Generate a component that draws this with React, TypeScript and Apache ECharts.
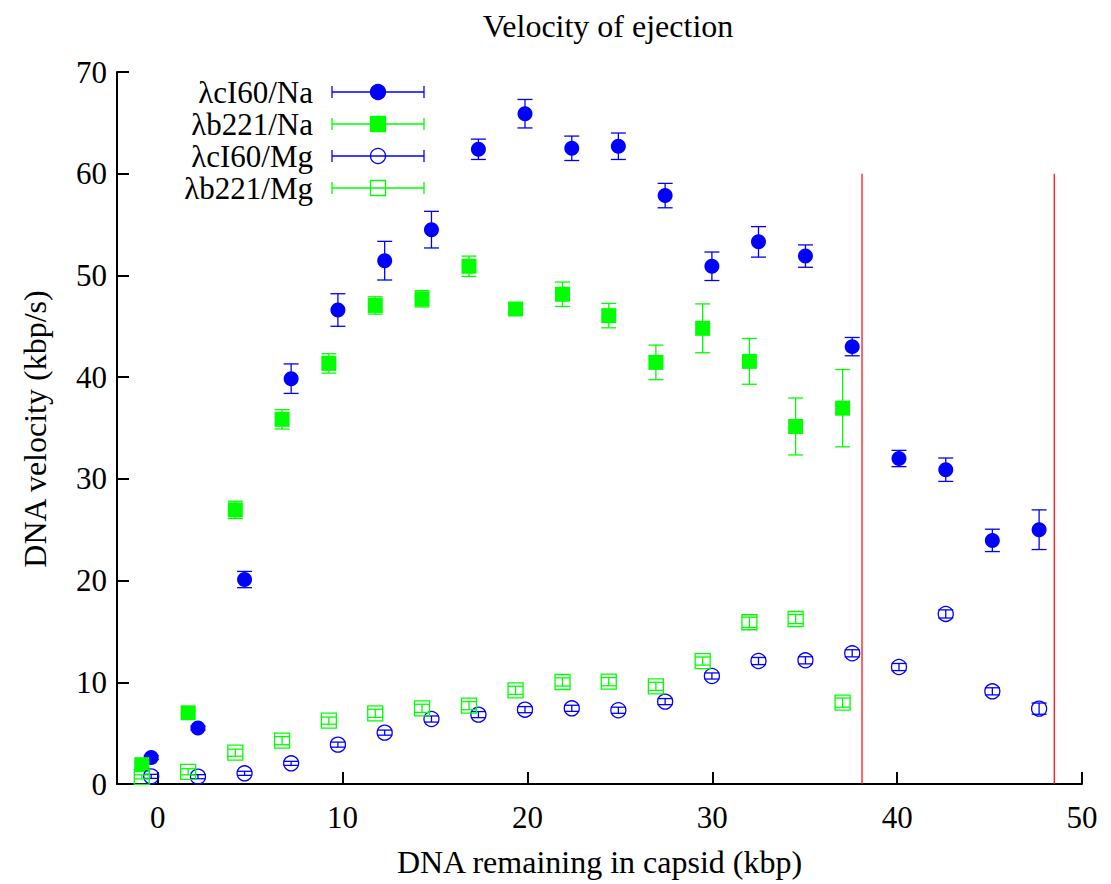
import React, { useEffect, useRef } from "react";
import * as echarts from "echarts";

// ---- data ----
const seriesNames = ["λcI60/Na", "λb221/Na", "λcI60/Mg", "λb221/Mg"];
const seriesColors = ["#0000ff", "#00ff00", "#0000ff", "#00ff00"];

const cI60X = [-0.35, 2.18, 4.7, 7.22, 9.75, 12.28, 14.81, 17.35, 19.87, 22.4, 24.92, 27.45, 29.98, 32.5, 35.04, 37.57, 40.1, 42.63, 45.15, 47.68];
const cI60NaY = [2.6, 5.5, 20.1, 39.85, 46.6, 51.45, 54.5, 62.4, 65.9, 62.5, 62.7, 57.85, 50.9, 53.3, 51.9, 43.0, 32.0, 30.9, 23.95, 25.0];
const cI60NaErr = [0.2, 0.2, 0.8, 1.45, 1.6, 1.9, 1.8, 1.0, 1.4, 1.2, 1.3, 1.2, 1.4, 1.5, 1.1, 0.9, 0.8, 1.15, 1.1, 1.95];

const b221X = [-0.86, 1.65, 4.2, 6.73, 9.26, 11.77, 14.3, 16.84, 19.36, 21.9, 24.4, 26.95, 29.48, 32.01, 34.51, 37.05];
const b221NaY = [1.9, 7.0, 26.95, 35.85, 41.35, 47.05, 47.7, 50.9, 46.7, 48.15, 46.05, 41.45, 44.8, 41.55, 35.15, 36.95];
const b221NaErr = [0.2, 0.2, 0.85, 0.95, 0.95, 0.85, 0.8, 1.0, 0.6, 1.2, 1.2, 1.7, 2.4, 2.25, 2.8, 3.8];

const cI60MgY = [0.75, 0.72, 1.05, 2.03, 3.87, 5.05, 6.39, 6.82, 7.31, 7.44, 7.25, 8.1, 10.62, 12.09, 12.16, 12.85, 11.5, 16.72, 9.11, 7.41];
const cI60MgErr = [0.2, 0.2, 0.2, 0.2, 0.25, 0.25, 0.3, 0.3, 0.3, 0.3, 0.3, 0.3, 0.3, 0.35, 0.35, 0.35, 0.35, 0.4, 0.35, 0.55];

const b221MgY = [0.7, 1.2, 3.08, 4.26, 6.23, 6.95, 7.44, 7.7, 9.21, 10.03, 10.06, 9.6, 12.09, 15.9, 16.22, 8.0];
const b221MgErr = [0.2, 0.3, 0.35, 0.4, 0.35, 0.4, 0.4, 0.4, 0.4, 0.4, 0.4, 0.4, 0.4, 0.5, 0.45, 0.45];

const xTicks = [0, 10, 20, 30, 40, 50];
const redLineX = [38.1, 48.5];
const redLineTop = 60;

const FONT = "Liberation Serif";

export default function App() {
  const ref = useRef<HTMLDivElement>(null);
  useEffect(() => {
    const chart = echarts.init(ref.current!, null, { renderer: "svg" });

    const errSeries = (xs: number[], ys: number[], es: number[], color: string, z: number) => ({
      type: "custom",
      silent: true,
      z,
      data: xs.map((x, i) => [x, ys[i], es[i]]),
      encode: { x: 0, y: 1 },
      renderItem: (_p: any, api: any) => {
        const x = api.value(0), y = api.value(1), e = api.value(2);
        const lo = api.coord([x, y - e]);
        const hi = api.coord([x, y + e]);
        const hw = 7.5;
        const st = { stroke: color, lineWidth: 1.3 };
        return {
          type: "group",
          children: [
            { type: "line", shape: { x1: lo[0], y1: lo[1], x2: hi[0], y2: hi[1] }, style: st },
            { type: "line", shape: { x1: lo[0] - hw, y1: lo[1], x2: lo[0] + hw, y2: lo[1] }, style: st },
            { type: "line", shape: { x1: hi[0] - hw, y1: hi[1], x2: hi[0] + hw, y2: hi[1] }, style: st },
          ],
        };
      },
    });

    const pts = (xs: number[], ys: number[], symbol: string, color: string, filled: boolean, z: number) => ({
      type: "scatter",
      silent: true,
      z,
      symbol,
      symbolSize: 15,
      data: xs.map((x, i) => [x, ys[i]]),
      itemStyle: filled
        ? { color, opacity: 1 }
        : { color: "rgba(0,0,0,0)", borderColor: color, borderWidth: 1.3, opacity: 1 },
    });

    const redSeries = redLineX.map((x) => ({
      type: "line",
      silent: true,
      symbol: "none",
      z: 1,
      data: [[x, 0], [x, redLineTop]],
      lineStyle: { color: "#ff0000", width: 1.2 },
    }));

    const rowY = [92, 124, 156, 188];
    const graphics: any[] = [];
    seriesNames.forEach((name, i) => {
      const y = rowY[i];
      const c = seriesColors[i];
      const st = { stroke: c, lineWidth: 1.3 };
      graphics.push({
        type: "text",
        x: 313,
        y,
        style: {
          text: name, fontFamily: FONT, fontSize: 31, lineHeight: 28, fill: "#000",
          align: "right", textAlign: "right", verticalAlign: "middle", textVerticalAlign: "middle",
        },
      });
      graphics.push({ type: "line", shape: { x1: 332, y1: y, x2: 424, y2: y }, style: st });
      graphics.push({ type: "line", shape: { x1: 332, y1: y - 6, x2: 332, y2: y + 6 }, style: st });
      graphics.push({ type: "line", shape: { x1: 424, y1: y - 6, x2: 424, y2: y + 6 }, style: st });
      const filled = i < 2;
      const fill = filled ? c : "rgba(0,0,0,0)";
      if (i % 2 === 0) {
        graphics.push({ type: "circle", shape: { cx: 378, cy: y, r: 7.5 }, style: { fill, stroke: c, lineWidth: 1.3 } });
      } else {
        graphics.push({ type: "rect", shape: { x: 370.5, y: y - 7.5, width: 15, height: 15 }, style: { fill, stroke: c, lineWidth: 1.3 } });
      }
    });

    // y axis title (rotated)
    graphics.push({
      type: "text",
      x: 35,
      y: 429,
      rotation: Math.PI / 2,
      style: {
        text: "DNA velocity (kbp/s)", fontFamily: FONT, fontSize: 32, fill: "#000",
        align: "center", textAlign: "center", verticalAlign: "middle", textVerticalAlign: "middle",
      },
    });

    const option: any = {
      animation: false,
      backgroundColor: "#fff",
      title: {
        text: "Velocity of ejection",
        left: 603,
        top: 5,
        textAlign: "center",
        textStyle: { fontFamily: FONT, fontSize: 32, fontWeight: "normal", color: "#000" },
      },
      grid: { left: 117, right: 29, top: 72, bottom: 100 },
      xAxis: {
        type: "value",
        min: -2.2,
        max: 50,
        name: "DNA remaining in capsid (kbp)",
        nameLocation: "middle",
        nameGap: 62,
        nameTextStyle: { fontFamily: FONT, fontSize: 32, color: "#000" },
        axisLine: { show: true, onZero: false, lineStyle: { color: "#000", width: 2 } },
        axisTick: { show: true, inside: true, length: 12, customValues: xTicks, lineStyle: { color: "#000", width: 2 } },
        axisLabel: { customValues: xTicks, fontFamily: FONT, fontSize: 31, color: "#000", margin: 18 },
        splitLine: { show: false },
      },
      yAxis: {
        type: "value",
        min: 0,
        max: 70,
        interval: 10,
        axisLine: { show: true, onZero: false, lineStyle: { color: "#000", width: 2 } },
        axisTick: { show: true, inside: true, length: 12, lineStyle: { color: "#000", width: 2 } },
        axisLabel: { fontFamily: FONT, fontSize: 31, color: "#000", margin: 10 },
        splitLine: { show: false },
      },
      graphic: graphics,
      series: [
        ...redSeries,
        errSeries(cI60X, cI60NaY, cI60NaErr, seriesColors[0], 2),
        pts(cI60X, cI60NaY, "circle", seriesColors[0], true, 3),
        errSeries(b221X, b221NaY, b221NaErr, seriesColors[1], 4),
        pts(b221X, b221NaY, "rect", seriesColors[1], true, 5),
        pts(cI60X, cI60MgY, "circle", seriesColors[2], false, 6),
        errSeries(cI60X, cI60MgY, cI60MgErr, seriesColors[2], 7),
        pts(b221X, b221MgY, "rect", seriesColors[3], false, 8),
        errSeries(b221X, b221MgY, b221MgErr, seriesColors[3], 9),
      ],
    };
    chart.setOption(option);
    return () => chart.dispose();
  }, []);
  return (
    <div
      ref={ref}
      style={{ position: "fixed", left: 0, top: 0, width: 1111, height: 884, background: "#fff" }}
    />
  );
}
